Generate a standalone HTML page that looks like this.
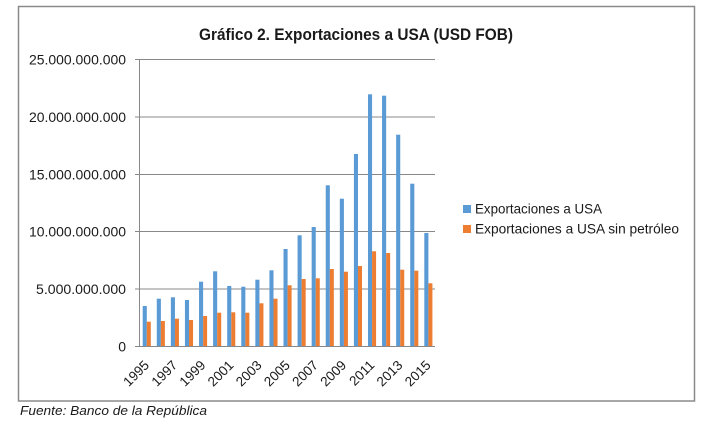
<!DOCTYPE html>
<html>
<head>
<meta charset="utf-8">
<style>
html,body{margin:0;padding:0;background:#fff;}
svg{display:block;}
text{font-family:"Liberation Sans",Arial,sans-serif;fill:#1a1a1a;}
</style>
</head>
<body>
<svg width="712" height="428" viewBox="0 0 712 428" xmlns="http://www.w3.org/2000/svg">
<rect x="0" y="0" width="712" height="428" fill="#fff"/>
<rect x="18.5" y="6.5" width="676" height="394.5" fill="none" stroke="#8a8a8a" stroke-width="1.5"/>
<text x="356" y="40" text-anchor="middle" font-size="17" font-weight="bold" textLength="314" lengthAdjust="spacingAndGlyphs">Gráfico 2. Exportaciones a USA (USD FOB)</text>
<g stroke="#888" stroke-width="1">
<line x1="135" y1="59.5" x2="435" y2="59.5"/>
<line x1="135" y1="117" x2="435" y2="117"/>
<line x1="135" y1="174.5" x2="435" y2="174.5"/>
<line x1="135" y1="231.5" x2="435" y2="231.5"/>
<line x1="135" y1="289" x2="435" y2="289"/>
<line x1="135" y1="346.5" x2="435" y2="346.5"/>
<line x1="139.5" y1="59" x2="139.5" y2="347"/>
</g>
<g font-size="14" text-anchor="end">
<text x="126" y="64.5" textLength="97" lengthAdjust="spacingAndGlyphs">25.000.000.000</text>
<text x="126" y="122" textLength="97" lengthAdjust="spacingAndGlyphs">20.000.000.000</text>
<text x="126" y="179.5" textLength="97" lengthAdjust="spacingAndGlyphs">15.000.000.000</text>
<text x="126" y="236.5" textLength="97" lengthAdjust="spacingAndGlyphs">10.000.000.000</text>
<text x="126" y="294" textLength="90" lengthAdjust="spacingAndGlyphs">5.000.000.000</text>
<text x="126" y="351.5">0</text>
</g>
<rect x="463" y="205" width="8" height="8" fill="#5B9BD5"/>
<text x="475" y="213.5" font-size="14" textLength="127" lengthAdjust="spacingAndGlyphs">Exportaciones a USA</text>
<rect x="463" y="225" width="8" height="8" fill="#ED7D31"/>
<text x="475" y="233.5" font-size="14" textLength="204" lengthAdjust="spacingAndGlyphs">Exportaciones a USA sin petróleo</text>
<text x="20" y="415" font-size="13" font-style="italic" textLength="187" lengthAdjust="spacingAndGlyphs">Fuente: Banco de la República</text>

<g>
<rect x="142.7" y="306" width="4.1" height="40.5" fill="#5B9BD5"/><rect x="146.8" y="321.7" width="4" height="24.8" fill="#ED7D31"/>
<rect x="156.78" y="298.7" width="4.1" height="47.8" fill="#5B9BD5"/><rect x="160.88" y="321" width="4" height="25.5" fill="#ED7D31"/>
<rect x="170.86" y="297.3" width="4.1" height="49.2" fill="#5B9BD5"/><rect x="174.96" y="318.7" width="4" height="27.8" fill="#ED7D31"/>
<rect x="184.94" y="300" width="4.1" height="46.5" fill="#5B9BD5"/><rect x="189.04" y="320" width="4" height="26.5" fill="#ED7D31"/>
<rect x="199.02" y="281.7" width="4.1" height="64.8" fill="#5B9BD5"/><rect x="203.12" y="316" width="4" height="30.5" fill="#ED7D31"/>
<rect x="213.1" y="271.3" width="4.1" height="75.2" fill="#5B9BD5"/><rect x="217.2" y="312.7" width="4" height="33.8" fill="#ED7D31"/>
<rect x="227.18" y="286" width="4.1" height="60.5" fill="#5B9BD5"/><rect x="231.28" y="312.3" width="4" height="34.2" fill="#ED7D31"/>
<rect x="241.26" y="286.7" width="4.1" height="59.8" fill="#5B9BD5"/><rect x="245.36" y="312.7" width="4" height="33.8" fill="#ED7D31"/>
<rect x="255.34" y="279.7" width="4.1" height="66.8" fill="#5B9BD5"/><rect x="259.44" y="303.3" width="4" height="43.2" fill="#ED7D31"/>
<rect x="269.42" y="270.3" width="4.1" height="76.2" fill="#5B9BD5"/><rect x="273.52" y="298.7" width="4" height="47.8" fill="#ED7D31"/>
<rect x="283.5" y="249" width="4.1" height="97.5" fill="#5B9BD5"/><rect x="287.6" y="285.3" width="4" height="61.2" fill="#ED7D31"/>
<rect x="297.58" y="235.3" width="4.1" height="111.2" fill="#5B9BD5"/><rect x="301.68" y="279" width="4" height="67.5" fill="#ED7D31"/>
<rect x="311.66" y="227" width="4.1" height="119.5" fill="#5B9BD5"/><rect x="315.76" y="278.3" width="4" height="68.2" fill="#ED7D31"/>
<rect x="325.74" y="185.3" width="4.1" height="161.2" fill="#5B9BD5"/><rect x="329.84" y="269" width="4" height="77.5" fill="#ED7D31"/>
<rect x="339.82" y="198.7" width="4.1" height="147.8" fill="#5B9BD5"/><rect x="343.92" y="271.7" width="4" height="74.8" fill="#ED7D31"/>
<rect x="353.9" y="154" width="4.1" height="192.5" fill="#5B9BD5"/><rect x="358" y="266" width="4" height="80.5" fill="#ED7D31"/>
<rect x="367.98" y="94.3" width="4.1" height="252.2" fill="#5B9BD5"/><rect x="372.08" y="251.3" width="4" height="95.2" fill="#ED7D31"/>
<rect x="382.06" y="95.7" width="4.1" height="250.8" fill="#5B9BD5"/><rect x="386.16" y="253" width="4" height="93.5" fill="#ED7D31"/>
<rect x="396.14" y="134.7" width="4.1" height="211.8" fill="#5B9BD5"/><rect x="400.24" y="269.7" width="4" height="76.8" fill="#ED7D31"/>
<rect x="410.22" y="183.7" width="4.1" height="162.8" fill="#5B9BD5"/><rect x="414.32" y="270.7" width="4" height="75.8" fill="#ED7D31"/>
<rect x="424.3" y="233" width="4.1" height="113.5" fill="#5B9BD5"/><rect x="428.4" y="283.3" width="4" height="63.2" fill="#ED7D31"/>
</g>
<line x1="139" y1="346.5" x2="435" y2="346.5" stroke="#888" stroke-width="1"/>

<g font-size="13.5" text-anchor="end">
<text transform="translate(150,366) rotate(-45)">1995</text>
<text transform="translate(178.2,366) rotate(-45)">1997</text>
<text transform="translate(206.3,366) rotate(-45)">1999</text>
<text transform="translate(234.5,366) rotate(-45)">2001</text>
<text transform="translate(262.6,366) rotate(-45)">2003</text>
<text transform="translate(290.8,366) rotate(-45)">2005</text>
<text transform="translate(319,366) rotate(-45)">2007</text>
<text transform="translate(347.1,366) rotate(-45)">2009</text>
<text transform="translate(375.3,366) rotate(-45)">2011</text>
<text transform="translate(403.4,366) rotate(-45)">2013</text>
<text transform="translate(431.6,366) rotate(-45)">2015</text>
</g>
</svg>
</body>
</html>
